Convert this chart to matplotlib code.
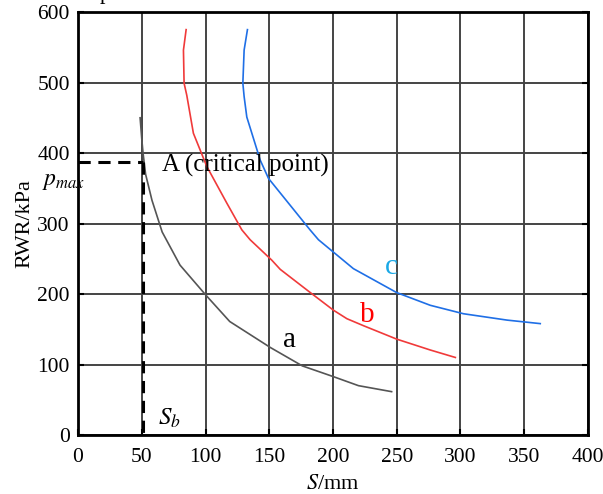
import matplotlib
matplotlib.use("Agg")
import matplotlib.pyplot as plt

plt.rcParams['font.family'] = ['Liberation Serif', 'DejaVu Serif']
plt.rcParams['mathtext.fontset'] = 'stix'

# --- curve a ---
s_a = [48.7, 50, 51, 53, 58, 66, 80, 100, 119, 151, 176, 200, 220, 246]
p_a = [450, 420, 400, 370, 333, 288, 241, 199, 161, 124, 98, 83, 70, 61.5]

# --- curve b ---
s_b = [84.8, 82.7, 83.2, 85.3, 90.5, 101, 116.7, 128.5, 135, 152, 158.6, 180.8,
       200.4, 210.9, 224, 250, 276.3, 296]
p_b = [575, 546, 499, 482, 428, 381, 329, 291, 277, 248, 235, 204,
       177, 165, 155, 136, 120.6, 110]

# --- curve c ---
s_c = [132.9, 130.3, 129.3, 130.3, 132.4, 142.9, 149.4, 182, 188.6, 216, 250,
       276.3, 302.4, 336.5, 362.6]
p_c = [575, 546, 499, 480, 451, 390, 364, 291, 277, 236, 202,
       184, 172, 163, 158]

# critical point A
s_crit = 51.3
p_crit = 387

fig = plt.figure(figsize=(6.03, 4.94), dpi=100)
ax = fig.add_axes([0.1294, 0.1194, 0.8456, 0.8563])

ax.plot(s_a, p_a, color='#555555', lw=1.2)
ax.plot(s_b, p_b, color='#f03a3a', lw=1.2)
ax.plot(s_c, p_c, color='#1f6fe6', lw=1.2)

ax.plot([0, s_crit], [p_crit, p_crit], color='black', lw=2.2,
        linestyle=(0, (4, 2.5)))
ax.plot([s_crit, s_crit], [p_crit, 0], color='black', lw=2.2,
        linestyle=(0, (4, 2.5)))

ax.text(65.5, 383, 'A (critical point)', fontsize=18, va='center', ha='left')
ax.text(-28, 359, r'$p_{max}$', fontsize=17, va='center', ha='left',
        clip_on=False)
ax.text(63, 24, r'$S_b$', fontsize=18, va='center', ha='left')
ax.text(166, 135, 'a', fontsize=21, color='black', ha='center', va='center')
ax.text(226.6, 170, 'b', fontsize=21, color='#ff0000', ha='center', va='center')
ax.text(246, 238, 'c', fontsize=21, color='#1aa8e6', ha='center', va='center')

ax.set_xlim(0, 400)
ax.set_ylim(0, 600)
ax.set_xticks(range(0, 401, 50))
ax.set_yticks(range(0, 601, 100))
ax.tick_params(direction='in', length=4, width=1.5, labelsize=15.5,
               top=False, right=True)
ax.tick_params(axis='x', pad=9)
ax.tick_params(axis='y', pad=6)
ax.grid(True, color='#444444', lw=1.4)
ax.set_axisbelow(True)
for sp in ax.spines.values():
    sp.set_linewidth(2)
    sp.set_color('black')

ax.set_xlabel(r'$\mathit{S}$/mm', fontsize=16, labelpad=6)
ax.set_ylabel('RWR/kPa', fontsize=16, labelpad=2)

# descender of clipped title text at the top edge
fig.text(100 / 603, 1 + 1.5 / 494, 'p', fontsize=16, va='baseline',
         ha='left')

fig.savefig('out.png', dpi=100)
